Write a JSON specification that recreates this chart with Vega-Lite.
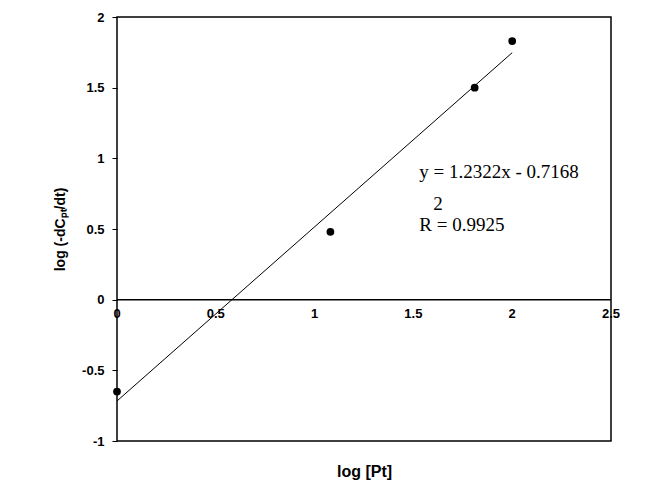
{
  "$schema": "https://vega.github.io/schema/vega-lite/v6.json",
  "width": 494,
  "height": 424,
  "autosize": "none",
  "padding": {"left": 117, "top": 17, "right": 43, "bottom": 58},
  "background": "white",
  "config": {"view": {"stroke": "black", "strokeWidth": 1.5}, "font": "Liberation Sans"},
  "datasets": {
    "pts": [
      {"x": 0, "y": -0.65},
      {"x": 1.08, "y": 0.48},
      {"x": 1.81, "y": 1.5},
      {"x": 2.0, "y": 1.83}
    ],
    "fit": [
      {"x": 0, "y": -0.7168},
      {"x": 2, "y": 1.7476}
    ],
    "xlab": [
      {"x": 0, "t": "0"}, {"x": 0.5, "t": "0.5"}, {"x": 1, "t": "1"},
      {"x": 1.5, "t": "1.5"}, {"x": 2, "t": "2"}, {"x": 2.5, "t": "2.5"}
    ],
    "eq": [
      {"x": 1.53, "y": 0.9, "t": "y = 1.2322x - 0.7168"},
      {"x": 1.53, "y": 0.53, "t": "R  = 0.9925"},
      {"x": 1.6, "y": 0.68, "t": "2"}
    ]
  },
  "layer": [
    {
      "data": {"name": "fit"},
      "mark": {"type": "line", "color": "black", "strokeWidth": 1},
      "encoding": {
        "x": {"field": "x", "type": "quantitative", "scale": {"domain": [0, 2.5], "nice": false},
          "axis": {"labels": false, "ticks": false, "grid": false, "domain": false, "title": "log [Pt]", "titleFontSize": 16, "titleFontWeight": "bold", "titlePadding": 22}},
        "y": {"field": "y", "type": "quantitative", "scale": {"domain": [-1, 2], "nice": false},
          "axis": {"values": [-1, -0.5, 0, 0.5, 1, 1.5, 2], "labelExpr": "datum.value < 0 ? '-' + format(-datum.value, '~g') : format(datum.value, '~g')", "grid": false, "domain": false, "tickColor": "black", "tickSize": 5, "labelFontSize": 13, "labelFontWeight": "bold", "labelColor": "black", "labelPadding": 8, "title": "log (-dCₚₜ/dt)", "titleFontSize": 14, "titleFontWeight": "bold", "titlePadding": 14}}
      }
    },
    {
      "data": {"name": "pts"},
      "mark": {"type": "point", "filled": true, "color": "black", "size": 60, "opacity": 1},
      "encoding": {"x": {"field": "x", "type": "quantitative"}, "y": {"field": "y", "type": "quantitative"}}
    },
    {
      "data": {"values": [{"y": 0}]},
      "mark": {"type": "rule", "color": "black", "strokeWidth": 1.5},
      "encoding": {"y": {"field": "y", "type": "quantitative"}}
    },
    {
      "data": {"name": "xlab"},
      "mark": {"type": "text", "fontSize": 13, "fontWeight": "bold", "baseline": "top", "dy": 8},
      "encoding": {"x": {"field": "x", "type": "quantitative"}, "y": {"datum": 0, "type": "quantitative"}, "text": {"field": "t"}}
    },
    {
      "data": {"name": "eq"},
      "mark": {"type": "text", "font": "Liberation Serif", "fontSize": 19, "align": "left", "baseline": "middle"},
      "encoding": {"x": {"field": "x", "type": "quantitative"}, "y": {"field": "y", "type": "quantitative"}, "text": {"field": "t"}}
    }
  ]
}
